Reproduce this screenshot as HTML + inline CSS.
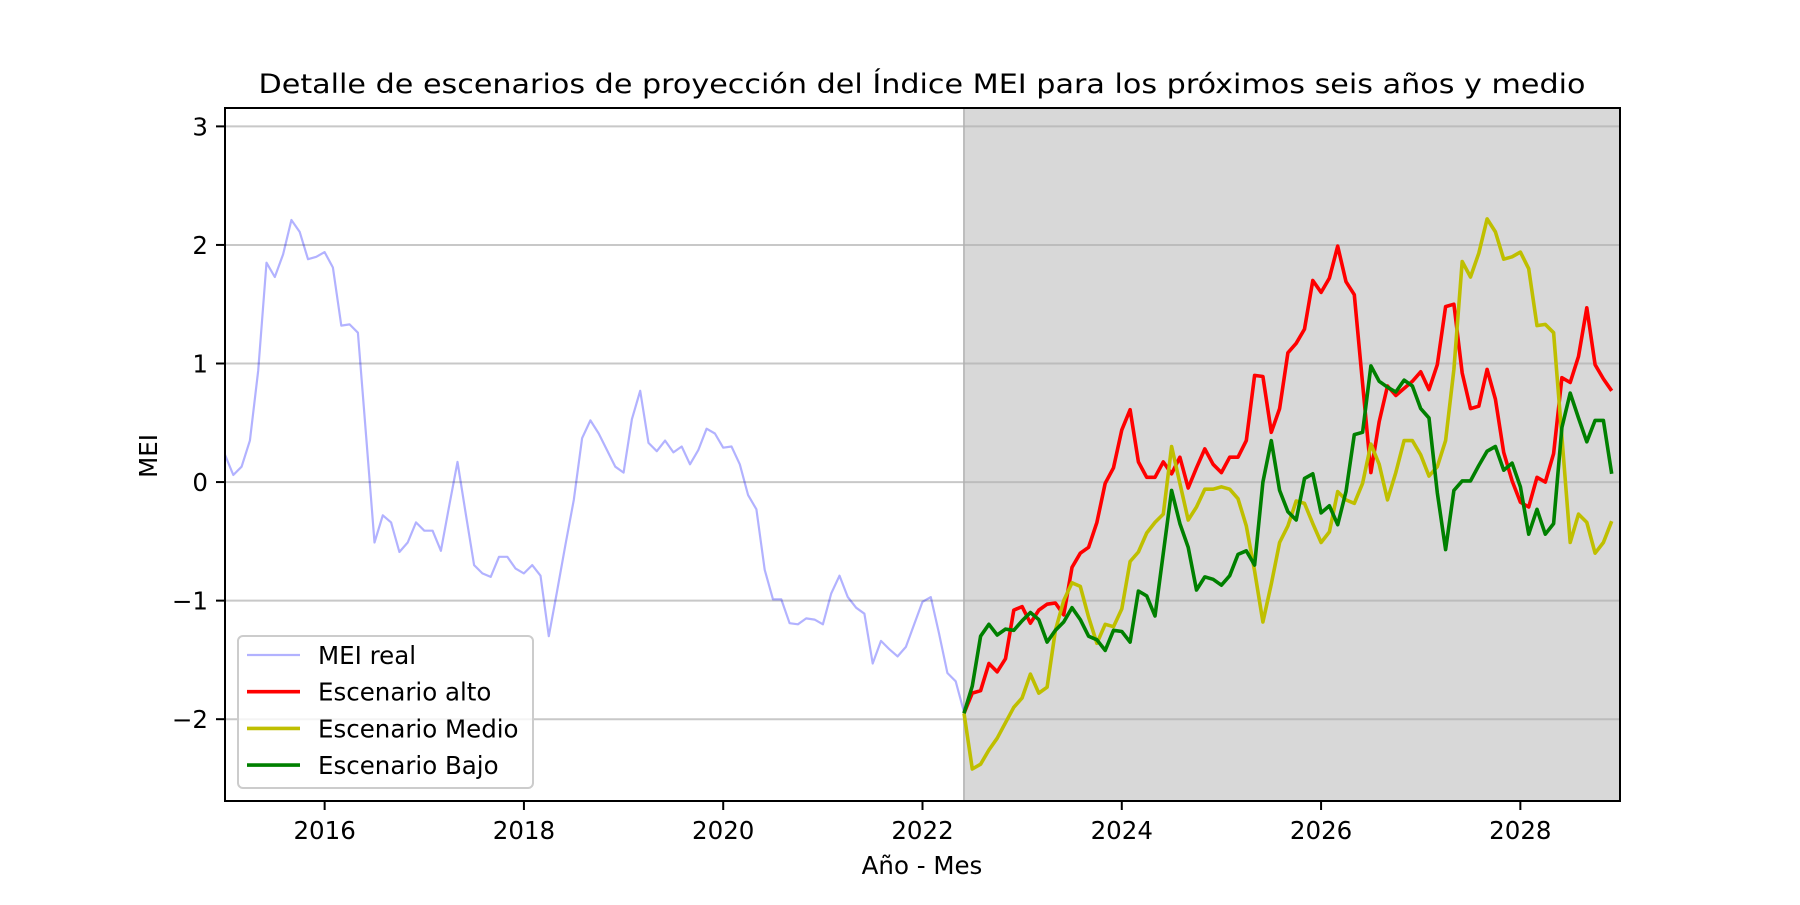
<!DOCTYPE html>
<html><head><meta charset="utf-8"><style>
html,body{margin:0;padding:0;background:#fff}
svg text{font-family:"DejaVu Sans","Liberation Sans",sans-serif;fill:#000}
</style></head><body>
<svg id="chart" width="1800" height="900" viewBox="0 0 1800 900" xmlns="http://www.w3.org/2000/svg">
<text x="922" y="93" font-size="27" text-anchor="middle" textLength="1327" lengthAdjust="spacingAndGlyphs">Detalle de escenarios de proyección del Índice MEI para los próximos seis años y medio</text>
<g id="plot"></g>
<text x="922" y="874" font-size="24.5" text-anchor="middle">Año - Mes</text>
<text x="0" y="0" font-size="24.5" text-anchor="middle" transform="translate(157,456) rotate(-90)">MEI</text>
</svg>
<script>
const realValues=[0.23,0.06,0.13,0.35,0.94,1.85,1.73,1.92,2.21,2.11,1.88,1.90,1.94,1.81,1.32,1.33,1.26,0.38,-0.51,-0.28,-0.34,-0.59,-0.51,-0.34,-0.41,-0.41,-0.58,-0.20,0.17,-0.27,-0.70,-0.77,-0.80,-0.63,-0.63,-0.73,-0.77,-0.70,-0.79,-1.30,-0.92,-0.53,-0.15,0.37,0.52,0.41,0.27,0.13,0.08,0.53,0.77,0.33,0.26,0.35,0.25,0.30,0.15,0.27,0.45,0.41,0.29,0.30,0.15,-0.11,-0.23,-0.74,-0.99,-0.99,-1.19,-1.20,-1.15,-1.16,-1.20,-0.94,-0.79,-0.97,-1.06,-1.11,-1.53,-1.34,-1.41,-1.47,-1.39,-1.20,-1.01,-0.97,-1.28,-1.61,-1.68,-1.94];
const altoValues=[-1.95,-1.78,-1.76,-1.53,-1.60,-1.49,-1.08,-1.05,-1.19,-1.08,-1.03,-1.02,-1.12,-0.72,-0.60,-0.55,-0.34,-0.01,0.12,0.44,0.61,0.17,0.04,0.04,0.17,0.07,0.21,-0.05,0.12,0.28,0.15,0.08,0.21,0.21,0.35,0.90,0.89,0.42,0.62,1.09,1.17,1.29,1.70,1.60,1.72,1.99,1.69,1.58,0.83,0.08,0.51,0.81,0.73,0.79,0.85,0.93,0.78,0.99,1.48,1.50,0.92,0.62,0.64,0.95,0.70,0.25,0.01,-0.17,-0.21,0.04,0.00,0.24,0.88,0.84,1.06,1.47,0.99,0.87,0.77];
const medioValues=[-1.95,-2.42,-2.38,-2.26,-2.16,-2.03,-1.90,-1.82,-1.62,-1.78,-1.73,-1.25,-1.00,-0.85,-0.88,-1.14,-1.36,-1.20,-1.22,-1.07,-0.67,-0.59,-0.43,-0.34,-0.27,0.30,-0.01,-0.32,-0.21,-0.06,-0.06,-0.04,-0.06,-0.14,-0.37,-0.75,-1.18,-0.86,-0.51,-0.37,-0.16,-0.18,-0.35,-0.51,-0.42,-0.08,-0.15,-0.18,-0.01,0.32,0.15,-0.15,0.08,0.35,0.35,0.23,0.05,0.13,0.35,0.95,1.86,1.73,1.93,2.22,2.11,1.88,1.90,1.94,1.80,1.32,1.33,1.26,0.38,-0.51,-0.27,-0.34,-0.60,-0.51,-0.33];
const bajoValues=[-1.95,-1.72,-1.30,-1.20,-1.29,-1.24,-1.25,-1.17,-1.10,-1.16,-1.35,-1.25,-1.18,-1.06,-1.16,-1.30,-1.33,-1.42,-1.25,-1.26,-1.35,-0.92,-0.96,-1.13,-0.60,-0.07,-0.35,-0.55,-0.91,-0.80,-0.82,-0.87,-0.79,-0.61,-0.58,-0.70,0.00,0.35,-0.07,-0.25,-0.32,0.03,0.07,-0.26,-0.20,-0.36,-0.08,0.40,0.42,0.98,0.85,0.80,0.76,0.86,0.81,0.62,0.54,-0.09,-0.57,-0.07,0.01,0.01,0.14,0.26,0.30,0.10,0.16,-0.04,-0.44,-0.23,-0.44,-0.35,0.46,0.75,0.54,0.34,0.52,0.52,0.07];
const startYear=2015, scenarioStartIdx=89;
const xTicks=[2016,2018,2020,2022,2024,2026,2028];
const yTicks=[-2,-1,0,1,2,3];
const legendLabels=["MEI real","Escenario alto","Escenario Medio","Escenario Bajo"];

const L=225,R=1620,T=108,B=801;
const xMin=2015, xMax=2029.0, yMin=-2.69, yMax=3.155;
const sx=v=>L+(v-xMin)/(xMax-xMin)*(R-L);
const sy=v=>B-(v-yMin)/(yMax-yMin)*(B-T);
const NS="http://www.w3.org/2000/svg";
const plot=document.getElementById('plot');
function mk(tag,attrs,parent){const e=document.createElementNS(NS,tag);for(const k in attrs)e.setAttribute(k,attrs[k]);(parent||plot).appendChild(e);return e;}

const spanX=sx(startYear+scenarioStartIdx/12);
const span=mk('rect',{x:spanX,y:T,width:R-spanX,height:B-T,fill:'#d8d8d8'});


const spanEdge=mk('line',{x1:spanX,x2:spanX,y1:T,y2:B,stroke:'#bdbdbd','stroke-width':2});



yTicks.forEach(t=>{
  const g=mk('line',{x1:L,x2:R,y1:sy(t),y2:sy(t),stroke:'#b0b0b0','stroke-opacity':0.7,'stroke-width':2});
  
  
  const tk=mk('line',{x1:L-9,x2:L,y1:sy(t),y2:sy(t),stroke:'#000','stroke-width':2});
  
  
  const lb=mk('text',{x:L-17,y:sy(t)+9,'font-size':24.5,'text-anchor':'end'});
  lb.textContent=(t<0?'\u2212'+(-t):String(t));
  
  
});
xTicks.forEach(t=>{
  const tk=mk('line',{x1:sx(t),x2:sx(t),y1:B,y2:B+9,stroke:'#000','stroke-width':2});
  
  
  const lb=mk('text',{x:sx(t),y:B+38,'font-size':24.5,'text-anchor':'middle'});
  lb.textContent=String(t);
  
  
});

function series(vals,offset,color,w,op,name){
  const d=vals.map((v,i)=>(i?'L':'M')+sx(startYear+(offset+i)/12).toFixed(1)+','+sy(v).toFixed(1)).join(' ');
  const p=mk('path',{d:d,fill:'none',stroke:color,'stroke-width':w,'stroke-opacity':op,'stroke-linejoin':'round'});
  
  
}
series(realValues,0,'#0000ff',2.2,0.3,'mei-real-line');
series(altoValues,scenarioStartIdx,'#ff0000',3.6,1,'escenario-alto-line');
series(medioValues,scenarioStartIdx,'#bfbf00',3.6,1,'escenario-medio-line');
series(bajoValues,scenarioStartIdx,'#008000',3.6,1,'escenario-bajo-line');

const frame=mk('rect',{x:L,y:T,width:R-L,height:B-T,fill:'none',stroke:'#000','stroke-width':2});



const lg=mk('g',{});


const box=mk('rect',{x:238,y:636,width:295,height:152,rx:5,fill:'#fff','fill-opacity':0.8,stroke:'#cccccc','stroke-width':2},lg);


const lcol=['#0000ff','#ff0000','#bfbf00','#008000'],lop=[0.3,1,1,1],lw=[2.2,3.6,3.6,3.6];
legendLabels.forEach((s,i)=>{
  const y=655+i*36.7;
  const ln=mk('line',{x1:247,x2:300,y1:y,y2:y,stroke:lcol[i],'stroke-opacity':lop[i],'stroke-width':lw[i]},lg);
  
  
  const tx=mk('text',{x:318,y:y+9,'font-size':24.5},lg);
  tx.textContent=s;
  
  
});
</script>
</body></html>
